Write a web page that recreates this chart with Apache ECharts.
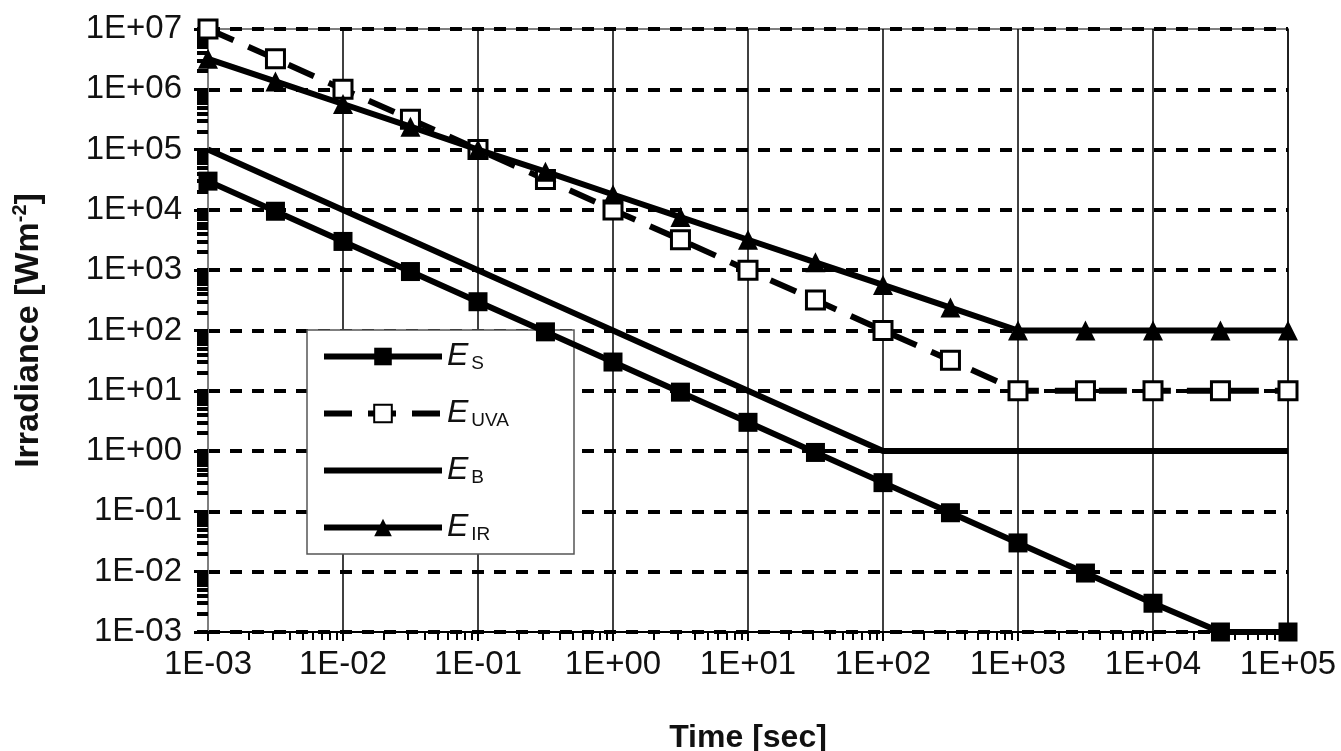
<!DOCTYPE html>
<html>
<head>
<meta charset="utf-8">
<script src="https://cdn.jsdelivr.net/npm/echarts@6/dist/echarts.min.js"></script>
<style>
html,body{margin:0;padding:0;background:#fff;}
#chart{width:1341px;height:751px;}
</style>
</head>
<body>
<div id="chart"></div>
<script>
// Time points [sec]
const times = [0.001, 0.00316, 0.01, 0.0316, 0.1, 0.316, 1, 3.16, 10, 31.6, 100, 316, 1000, 3160, 10000, 31600, 100000];
// Irradiance [W m^-2]
const eS   = [3e4, 9.5e3, 3e3, 950, 300, 95, 30, 9.5, 3, 0.95, 0.3, 0.095, 0.03, 0.0095, 0.003, 0.001, 0.001];
const eUVA = [1e7, 3.2e6, 1e6, 3.2e5, 1e5, 3.2e4, 1e4, 3.2e3, 1e3, 320, 100, 32, 10, 10, 10, 10, 10];
const eB   = [1e5, 3.16e4, 1e4, 3160, 1000, 316, 100, 31.6, 10, 3.16, 1, 1, 1, 1, 1, 1, 1];
const eIR  = [3.2e6, 1.35e6, 5.7e5, 2.4e5, 1e5, 4.3e4, 1.8e4, 7.6e3, 3.2e3, 1.35e3, 570, 240, 100, 100, 100, 100, 100];
// Tick labels
const xTickLabels = ['1E-03','1E-02','1E-01','1E+00','1E+01','1E+02','1E+03','1E+04','1E+05'];
const yTickLabels = ['1E-03','1E-02','1E-01','1E+00','1E+01','1E+02','1E+03','1E+04','1E+05','1E+06','1E+07'];

function logTicks(minExp, maxExp) {
  const out = [];
  for (let e = minExp; e <= maxExp; e++) {
    for (let m = 1; m <= 9; m++) {
      if (e === maxExp && m > 1) break;
      out.push(m * Math.pow(10, e));
    }
  }
  return out;
}
function pairs(ys) { return times.map((t, i) => [t, ys[i]]); }
function expIndex(v, minExp) { return Math.round(Math.log10(v)) - minExp; }

const font = 'Liberation Sans, Arial, sans-serif';
const LW = 6;
const chart = echarts.init(document.getElementById('chart'), null, {renderer: 'canvas'});
const option = {
  backgroundColor: '#fff',
  animation: false,
  grid: {left: 208, right: 53, top: 29, bottom: 119, containLabel: false, outerBoundsMode: 'none',
         show: true, borderColor: '#7f7f7f', borderWidth: 2, backgroundColor: 'transparent'},
  xAxis: [{
    type: 'log', logBase: 10, min: 0.001, max: 100000, interval: 1,
    name: 'Time [sec]', nameLocation: 'middle', nameGap: 90,
    nameTextStyle: {fontFamily: font, fontWeight: 'bold', fontSize: 32, color: '#111'},
    axisLine: {show: true, lineStyle: {color: '#000', width: 2}},
    axisTick: {show: true, inside: false, length: 9, lineStyle: {color: '#000', width: 2}},
    axisLabel: {margin: 16, fontFamily: font, fontSize: 33, color: '#111',
      formatter: v => xTickLabels[expIndex(v, -3)]},
    splitLine: {show: true, lineStyle: {color: '#000', width: 1.5, type: 'solid'}}
  }, {
    type: 'log', logBase: 10, min: 0.001, max: 100000, position: 'bottom',
    axisLine: {show: false},
    axisTick: {show: true, inside: false, length: 8, lineStyle: {color: '#000', width: 2}, customValues: logTicks(-3, 5)},
    axisLabel: {show: false}, splitLine: {show: false}
  }],
  yAxis: [{
    type: 'log', logBase: 10, min: 0.001, max: 1e7, interval: 1,
    name: 'Irradiance [Wm{sup|-2}]', nameLocation: 'middle', nameGap: 160, nameRotate: 90,
    nameTextStyle: {fontFamily: font, fontWeight: 'bold', fontSize: 34, color: '#111',
      rich: {sup: {fontFamily: font, fontWeight: 'bold', fontSize: 20, color: '#111', padding: [0, 0, 18, 0]}}},
    axisLine: {show: true, lineStyle: {color: '#7f7f7f', width: 2}},
    axisTick: {show: true, inside: false, length: 14, lineStyle: {color: '#000', width: 3}},
    axisLabel: {margin: 26, fontFamily: font, fontSize: 33, color: '#111',
      formatter: v => yTickLabels[expIndex(v, -3)]},
    splitLine: {show: true, lineStyle: {color: '#000', width: 4, type: [12, 10]}}
  }, {
    type: 'log', logBase: 10, min: 0.001, max: 1e7, position: 'left',
    axisLine: {show: false},
    axisTick: {show: true, inside: false, length: 11, lineStyle: {color: '#000', width: 4}, customValues: logTicks(-3, 7)},
    axisLabel: {show: false}, splitLine: {show: false}
  }],
  legend: {
    orient: 'vertical', left: 307, top: 330,
    backgroundColor: '#fff', borderColor: '#555', borderWidth: 1.5,
    padding: [10, 65, 10, 14], itemGap: 24, itemWidth: 118, itemHeight: 22,
    lineStyle: {width: LW},
    formatter: function (name) { return '{e|E}{s|' + name.split('_')[1] + '}'; },
    textStyle: {
      fontFamily: font, color: '#111',
      rich: {
        e: {fontFamily: font, fontStyle: 'italic', fontSize: 32, lineHeight: 34, color: '#111'},
        s: {fontFamily: font, fontSize: 19, lineHeight: 34, color: '#111', padding: [14, 0, 0, 3]}
      }
    },
    data: ['E_S', 'E_UVA', {name: 'E_B', itemStyle: {color: 'rgba(0,0,0,0)', borderWidth: 0, opacity: 0}}, 'E_IR']
  },
  series: [
    {name: 'E_S', type: 'line', data: pairs(eS), symbol: 'rect', symbolSize: 19,
     itemStyle: {color: '#000'}, lineStyle: {color: '#000', width: LW}, z: 4},
    {name: 'E_UVA', type: 'line', data: pairs(eUVA), symbol: 'rect', symbolSize: 18,
     itemStyle: {color: '#fff', borderColor: '#000', borderWidth: 3}, lineStyle: {color: '#000', width: LW, type: [28, 16]}, z: 3},
    {name: 'E_B', type: 'line', data: pairs(eB), showSymbol: false, symbol: 'none',
     itemStyle: {color: '#000'}, lineStyle: {color: '#000', width: LW}, z: 2},
    {name: 'E_IR', type: 'line', data: pairs(eIR), symbol: 'triangle', symbolSize: 20,
     itemStyle: {color: '#000'}, lineStyle: {color: '#000', width: LW}, z: 5}
  ]
};
chart.setOption(option);
</script>
</body>
</html>
